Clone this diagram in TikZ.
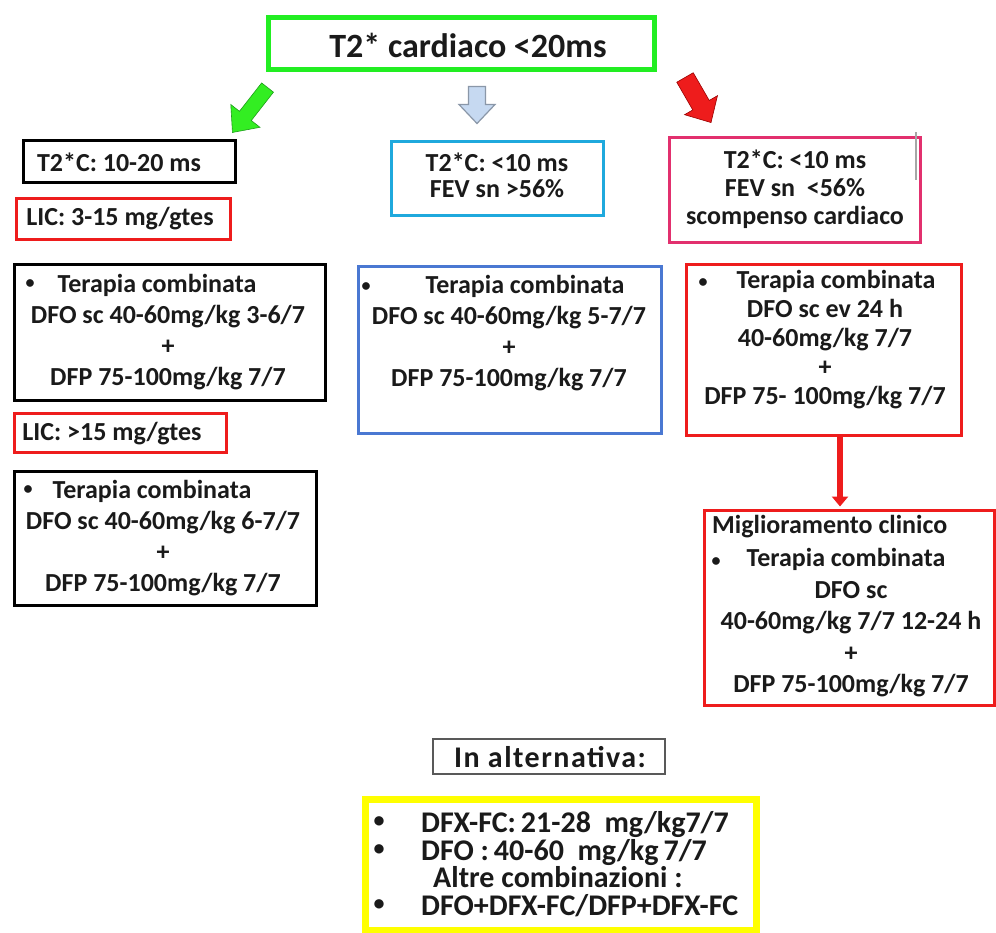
\documentclass[tikz,border=0pt]{standalone}
\usepackage{fontspec}
\setmainfont{Carlito}
\usetikzlibrary{arrows.meta}
\definecolor{titlegreen}{HTML}{22EE22}
\definecolor{arrgreen}{HTML}{33EE22}
\definecolor{arrgreendk}{HTML}{1E9E1A}
\definecolor{lightblue}{HTML}{C6D9F1}
\definecolor{lightbluedk}{HTML}{8A97A8}
\definecolor{boxred}{HTML}{EE1C1C}
\definecolor{boxpink}{HTML}{E2306E}
\definecolor{boxcyan}{HTML}{1FA9DD}
\definecolor{boxblue}{HTML}{4A78D2}
\definecolor{boxyellow}{HTML}{FFFF00}
\definecolor{txtgray}{HTML}{1A1A1A}
\newcommand{\blockarrowpath}[4]{% length, shaft, head width, head length
  (-#1/2,-#2/2) -- (#1/2-#4,-#2/2) -- (#1/2-#4,-#3/2) -- (#1/2,0) --
  (#1/2-#4,#3/2) -- (#1/2-#4,#2/2) -- (-#1/2,#2/2) -- cycle}
\begin{document}
\begin{tikzpicture}[x=1pt,y=-1pt,
  frame/.style={draw=#1, line width=3pt, inner sep=0pt, fill=none},
  txt/.style={font=\bfseries\fontsize{26}{31}\selectfont, align=center, inner sep=0pt, text=txtgray},
  bul/.style={font=\bfseries\fontsize{18}{20}\selectfont, inner sep=0pt, text=txtgray},
]
\useasboundingbox (0,0) rectangle (996,932);
\fill[white] (0,0) rectangle (996,932);

% title
\node[frame=titlegreen, line width=5pt, minimum width=386pt, minimum height=52pt] (title) at (461.5,43.5) {};
\node[txt, font=\bfseries\fontsize{34}{40}\selectfont] (titlet) at (468,45) {T2* cardiaco <20ms};

% block arrows
\begin{scope}[shift={(250,110)}, rotate=-128]
  \fill[arrgreen] \blockarrowpath{57}{15}{37}{21};
  \draw[arrgreendk, line width=0.6pt] \blockarrowpath{57}{15}{37}{21};
\end{scope}
\begin{scope}[shift={(477,105)}, rotate=-90]
  \fill[lightblue] \blockarrowpath{37}{17}{36}{19};
  \draw[lightbluedk, line width=1.2pt] \blockarrowpath{37}{17}{36}{19};
\end{scope}
\begin{scope}[shift={(698,100)}, rotate=-60]
  \fill[boxred] \blockarrowpath{52}{19}{38}{20};
  \draw[red!60!black, line width=0.6pt] \blockarrowpath{52}{19}{38}{20};
\end{scope}

% left column
\node[frame=black, minimum width=212pt, minimum height=42pt] (b1) at (129.5,161) {};
\node[txt] (b1t) at (119,162) {T2*C: 10-20 ms};

\node[frame=boxred, minimum width=214pt, minimum height=41pt] (lic1) at (123.5,218.5) {};
\node[txt] (lic1t) at (120,219) {LIC: 3-15 mg/gtes};

\node[frame=black, minimum width=311pt, minimum height=136pt] (b3) at (169.5,332.5) {};
\node[bul] (b3b) at (30,284) {\textbullet};
\node[txt] (b3t) at (168,332) {Terapia combinata\hspace*{22pt}\\DFO sc 40-60mg/kg 3-6/7\\+\\DFP 75-100mg/kg 7/7};

\node[frame=boxred, minimum width=212pt, minimum height=39pt] (lic2) at (120.5,433) {};
\node[txt] (lic2t) at (112,434) {LIC: >15 mg/gtes};

\node[frame=black, minimum width=302pt, minimum height=134pt] (b5) at (165.5,538.5) {};
\node[bul] (b5b) at (28,490) {\textbullet};
\node[txt] (b5t) at (163,538) {Terapia combinata\hspace*{22pt}\\DFO sc 40-60mg/kg 6-7/7\\+\\DFP 75-100mg/kg 7/7};

% middle column
\node[frame=boxcyan, minimum width=212pt, minimum height=74pt] (cyanb) at (497.5,178.5) {};
\node[txt, font=\bfseries\fontsize{26}{26}\selectfont] (cyant) at (497,175) {T2*C: <10 ms\\FEV sn >56\%};

\node[frame=boxblue, minimum width=303pt, minimum height=167pt] (blueb) at (510,350) {};
\node[bul] (blueb1) at (366,287) {\textbullet};
\node[txt] (bluet) at (509,333) {\hspace*{32pt}Terapia combinata\\DFO sc 40-60mg/kg 5-7/7\\+\\DFP 75-100mg/kg 7/7};

% right column
\node[frame=boxpink, minimum width=251pt, minimum height=105pt] (pinkb) at (795,190) {};
\draw[gray!70, line width=2pt] (916,132) -- (916,180);
\node[txt, font=\bfseries\fontsize{26}{28}\selectfont] (pinkt) at (795,189) {T2*C: <10 ms\\FEV sn~~<56\%\\scompenso cardiaco};

\node[frame=boxred, minimum width=275pt, minimum height=171pt] (rbox) at (824,350) {};
\node[bul] (rboxb) at (703,283) {\textbullet};
\node[txt, font=\bfseries\fontsize{26}{29}\selectfont] (rboxt) at (825,340) {\hspace*{22pt}Terapia combinata\\DFO sc ev 24 h\\40-60mg/kg 7/7\\+\\DFP 75- 100mg/kg 7/7};

\node[frame=boxred, minimum width=290pt, minimum height=195pt] (rbest) at (849.5,607.5) {};
\node[txt, anchor=west] (rbestm) at (712,527) {Miglioramento clinico};
\node[bul] (rbestb) at (716,562) {\textbullet};
\node[txt, font=\bfseries\fontsize{26}{31.5}\selectfont] (rbestt) at (851,623) {Terapia combinata\hspace*{10pt}\\DFO sc\\40-60mg/kg 7/7 12-24 h\\+\\DFP 75-100mg/kg 7/7};

\coordinate (arrx) at (840,0);
\draw[boxred, line width=6pt, -{Triangle[width=16pt,length=10pt]}] (rbox.south -| arrx) -- ([yshift=2pt]rbest.north -| arrx);

% bottom
\node[draw=gray!70!black, line width=1.5pt, inner sep=0pt, minimum width=232pt, minimum height=35pt] (alt) at (549,756.5) {};
\node[txt, font=\bfseries\fontsize{30}{34}\selectfont\addfontfeatures{LetterSpace=5}] (altt) at (550,757) {In alternativa:};

\node[frame=boxyellow, line width=7pt, minimum width=391pt, minimum height=131pt] (yel) at (561,865) {};
\node[bul, font=\bfseries\fontsize{22}{24}\selectfont] (yb1) at (379,822) {\textbullet};
\node[bul, font=\bfseries\fontsize{22}{24}\selectfont] (yb2) at (379,850) {\textbullet};
\node[bul, font=\bfseries\fontsize{22}{24}\selectfont] (yb4) at (379,905) {\textbullet};
\node[txt, font=\bfseries\fontsize{30}{27.7}\selectfont, align=left, anchor=west] (yelt) at (421,864) {DFX-FC:\,21-28~~mg/kg7/7\\DFO :\,40-60~~mg/kg\,7/7\\\hspace*{12pt}Altre combinazioni :\\DFO+DFX-FC/DFP+DFX-FC};
\end{tikzpicture}
\end{document}
